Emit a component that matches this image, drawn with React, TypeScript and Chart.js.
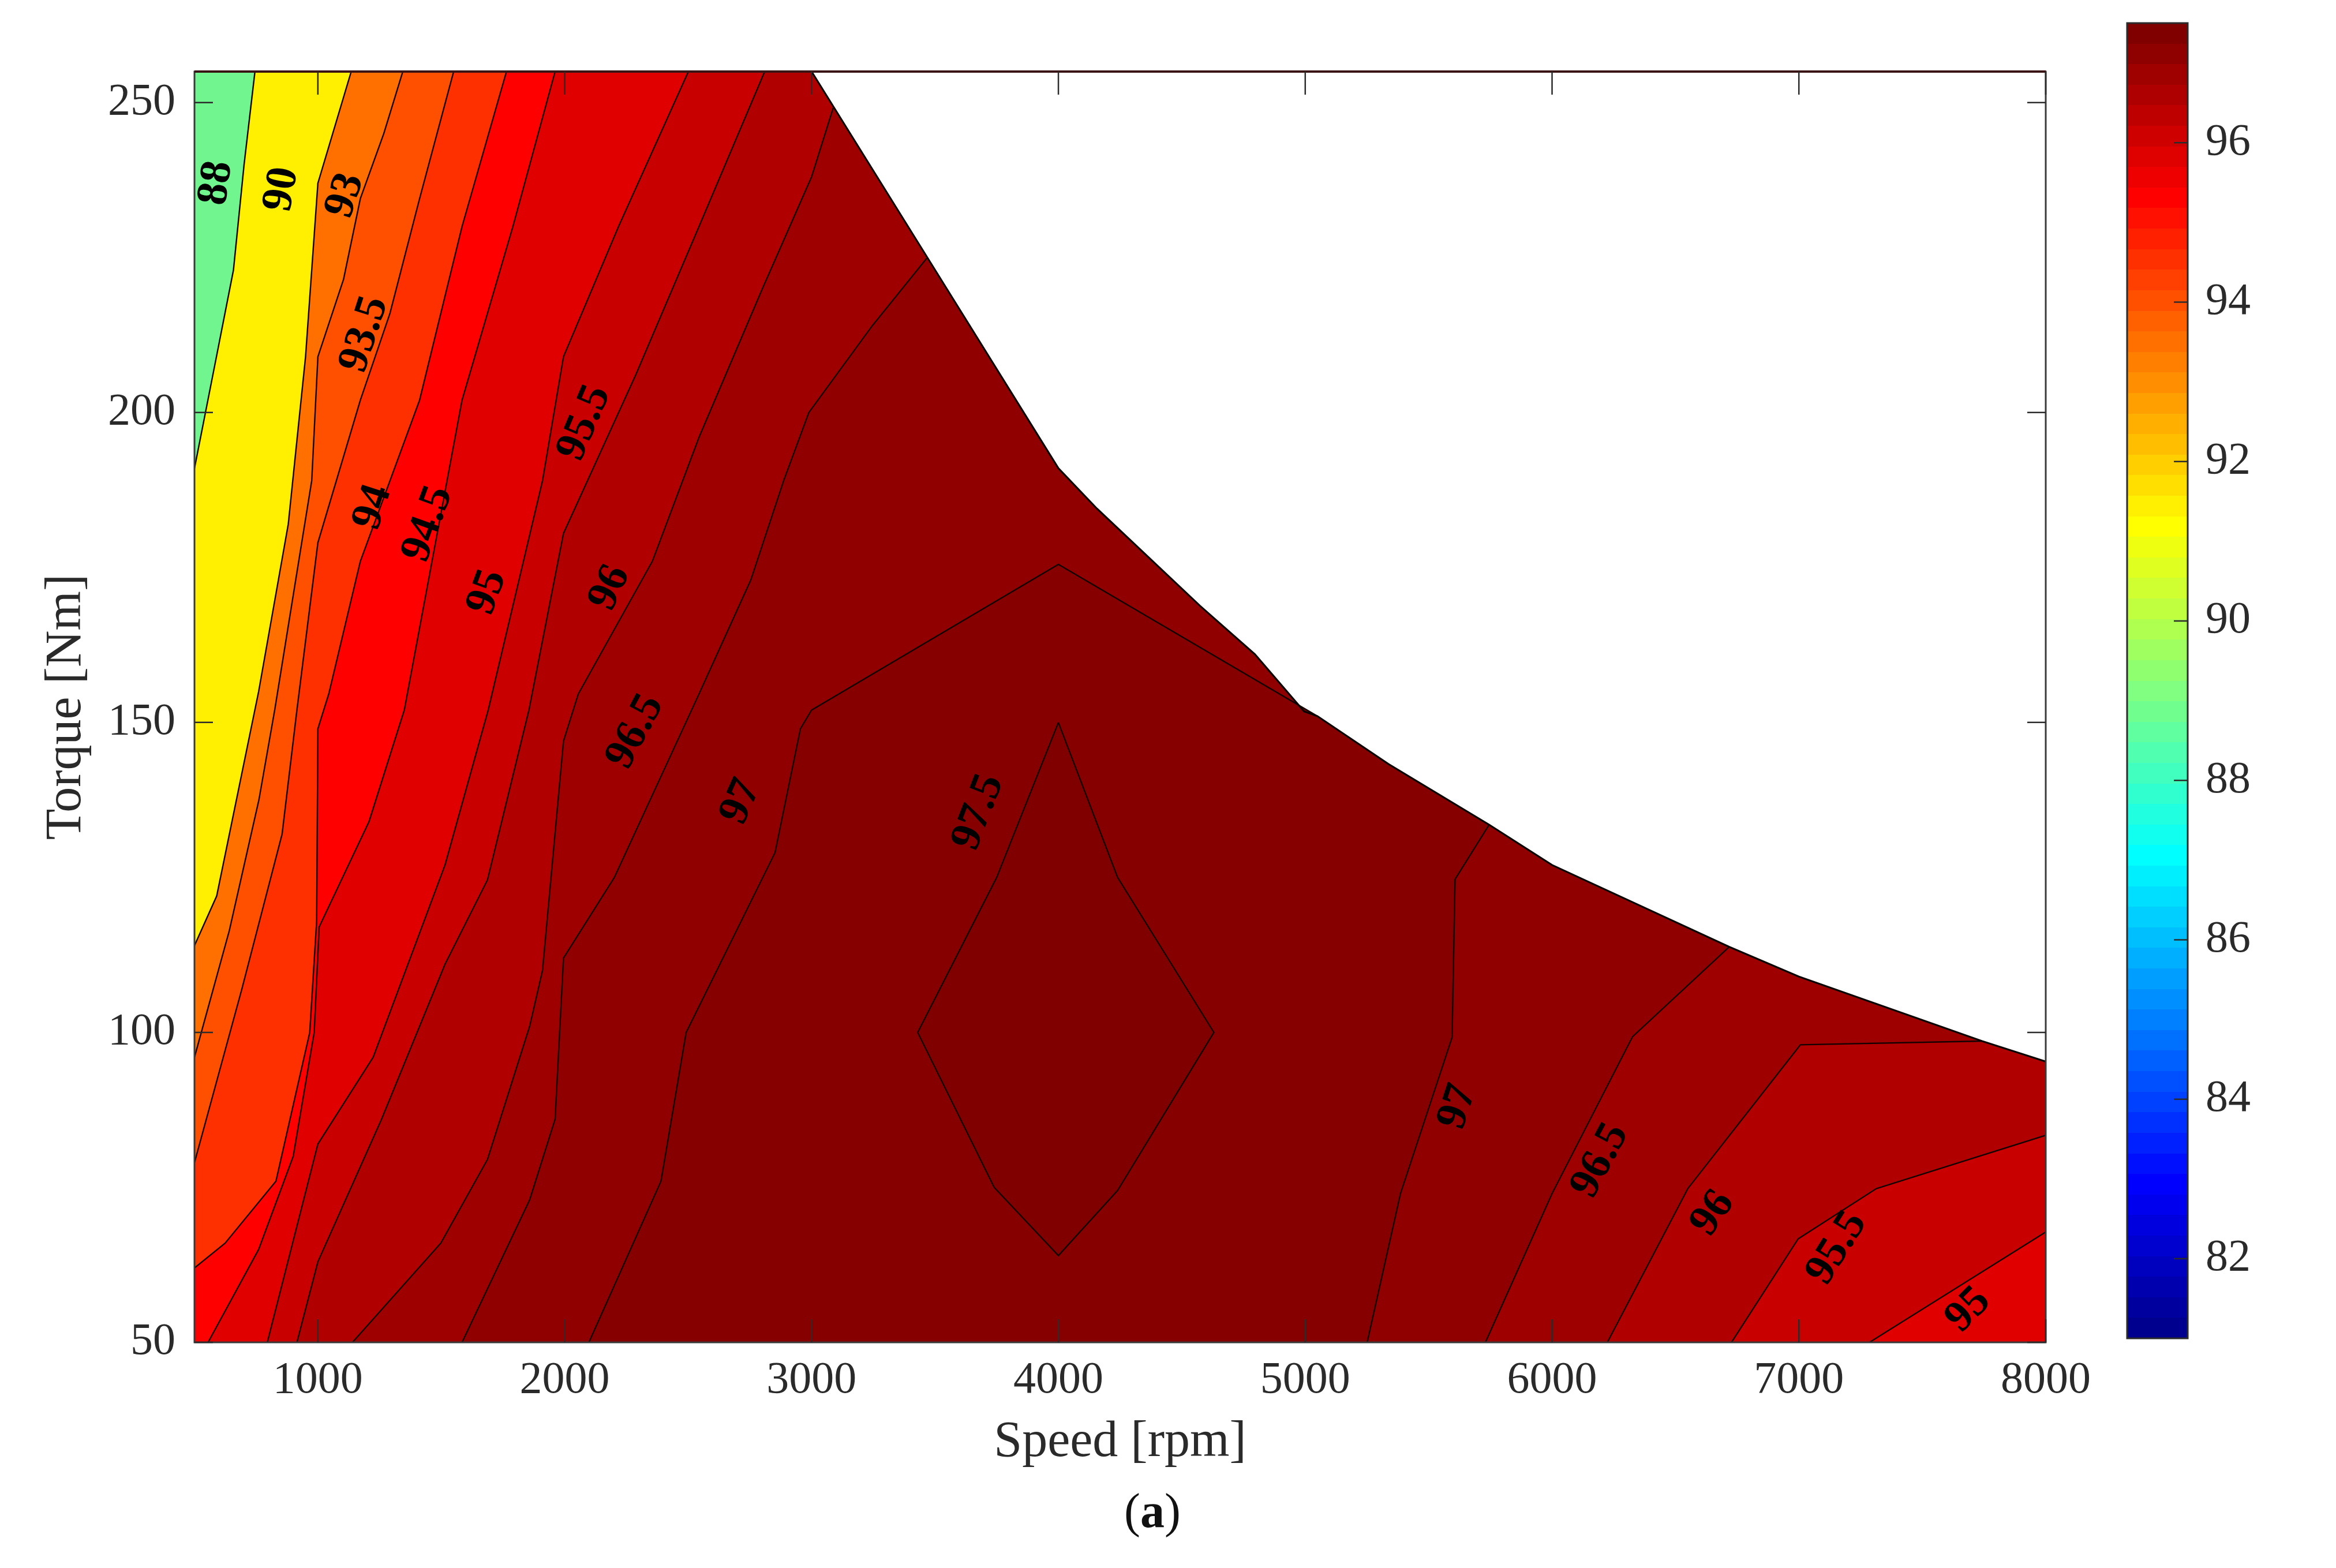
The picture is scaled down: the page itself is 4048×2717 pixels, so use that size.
import React, { useEffect, useRef } from 'react';
import { Chart, registerables } from 'chart.js';

Chart.register(...registerables);

const PAGE_W = 4048;
const PAGE_H = 2717;

// ---- axes ----
const speedMin = 500;
const speedMax = 8000;
const torqueMin = 50;
const torqueMax = 255;
const speedTicks = [1000, 2000, 3000, 4000, 5000, 6000, 7000, 8000];
const torqueTicks = [50, 100, 150, 200, 250];
const colorMin = 81;
const colorMax = 97.5;
const colorTicks = [82, 84, 86, 88, 90, 92, 94, 96];

// ---- maximum torque envelope [speed, torque] ----
const envelope = [
  [3000, 255], [3469, 225], [4000, 191], [4156, 184.5], [4574, 168.8], [4796, 161],
  [4995, 151.8], [5050, 151], [5337, 143.3], [5745, 133.5], [6000, 127], [6718, 113.8],
  [7000, 109], [7742, 98.6], [8000, 95.3],
];

// ---- efficiency contour lines [speed, torque] (left family: top/envelope -> bottom/left) ----
const line88 = [[745, 255], [701, 240], [658, 223], [589, 209], [500, 191]];
const line90 = [[1135, 255], [1000, 237], [950, 209], [880, 182], [760, 155], [590, 122], [500, 114]];
const line93 = [[1344, 255], [1267, 245], [1172, 234.5], [1104, 221.5], [1000, 209], [975, 189], [825, 152], [761, 137.5], [641, 116.4], [500, 96]];
const line93_5 = [[1550, 255], [1412, 234.5], [1292, 216], [1172, 202], [1000, 179], [915, 152], [855, 132], [692, 107], [500, 79]];
const line94 = [[1764, 255], [1584, 230], [1412, 202], [1172, 176], [1044, 154.6], [1000, 149], [995, 118], [967, 100], [830, 76], [624, 66], [500, 62]];
const line94_5 = [[1961, 255], [1790, 230], [1584, 202], [1350, 152], [1207, 134], [1005, 117], [985, 100], [900, 80], [760, 65], [555, 50]];
const line95 = [[2501, 255], [2218, 230], [1995, 209], [1910, 189], [1690, 152], [1515, 127], [1224, 96], [1000, 82], [795, 50]];
const line95_5 = [[2810, 255], [2544, 230], [2287, 206], [1995, 180.5], [1855, 152], [1687, 124.6], [1515, 111], [1258, 86], [1000, 63], [915, 50]];
const line96 = [[3089, 249.3], [3000, 238], [2801, 220], [2544, 196], [2355, 176], [2055, 154.6], [1995, 147], [1910, 110], [1858, 101], [1687, 79.5], [1498, 66], [1140, 50]];
const line96_5 = [[3469, 225], [3246, 214], [2989, 200], [2887, 189], [2754, 173], [2544, 154.6], [2201, 125], [1995, 112], [1961, 86], [1858, 73], [1584, 50]];
const line97 = [[5050, 151], [4000, 175.5], [3000, 152], [2955, 149], [2852, 129], [2492, 100], [2390, 76], [2098, 50]];
const line97_5 = [[4000, 150], [4240, 125], [4630, 100], [4240, 74.5], [4000, 64], [3740, 75], [3430, 100], [3750, 125], [4000, 150]];

// right family: bottom -> right edge / envelope
const right95 = [[7286, 50], [8000, 67.8]];
const right95_5 = [[6727, 50], [6997, 66.7], [7314, 74.8], [8000, 83.4]];
const right96 = [[6224, 50], [6550, 74.8], [7006, 98], [7742, 98.6]];
const right96_5 = [[5730, 50], [6000, 74], [6326, 99.3], [6718, 113.8]];
const right97 = [[5251, 50], [5386, 74], [5595, 99.2], [5607, 124.7], [5745, 133.5]];

// ---- contour labels [text, speed, torque, angle(deg)] ----
const contourLabels: [string, number, number, number][] = [
  ['88', 590, 237, 82],
  ['90', 855, 236, 80],
  ['93', 1112, 235, 72],
  ['93.5', 1190, 212.6, 72],
  ['94', 1224, 184.7, 72],
  ['94.5', 1447, 182, 70],
  ['95', 1687, 171, 70],
  ['95.5', 2081, 198.3, 67],
  ['96', 2184, 171.7, 65],
  ['96.5', 2287, 148.5, 62],
  ['97', 2715, 137.2, 66],
  ['97.5', 3677, 135.5, 69],
  ['97', 5619, 88, 72],
  ['96.5', 6196, 79.3, 62],
  ['96', 6652, 70.8, 55],
  ['95.5', 7155, 65.2, 58],
  ['95', 7687, 55.2, 45],
];

// ---- fill colours of the super-level regions ----
const baseColor = '#70F58F';
const regionColors = [
  '#FFEF00', // >= 88
  '#FF7000', // >= 90
  '#FF5000', // >= 93
  '#FF3000', // >= 93.5
  '#FF0000', // >= 94
  '#E00000', // >= 94.5
  '#C80000', // >= 95
  '#B00000', // >= 95.5
  '#9E0000', // >= 96
  '#900000', // >= 96.5
  '#870000', // >= 97
  '#800000', // >= 97.5
];

type P = { x: number; y: number };
const toPts = (arr: number[][]): P[] => arr.map(([x, y]) => ({ x, y }));

function buildRegion(left: number[][], right: number[][] | null): P[] {
  const pts = toPts(left);
  const end = left[left.length - 1];
  if (end[1] > torqueMin + 0.01) pts.push({ x: speedMin, y: torqueMin });
  if (right) pts.push(...toPts(right));
  else pts.push({ x: speedMax, y: torqueMin });
  const last = pts[pts.length - 1];
  const startX = left[0][0];
  for (let i = envelope.length - 1; i >= 0; i--) {
    const [ex, ey] = envelope[i];
    if (ex <= startX + 0.5) continue;
    if (ex > last.x + 0.5) continue;
    if (Math.abs(ex - last.x) <= 0.5 && ey <= last.y + 0.5) continue;
    pts.push({ x: ex, y: ey });
  }
  return pts;
}

function domainPolygon(): P[] {
  const pts: P[] = [{ x: speedMin, y: torqueMin }, { x: speedMax, y: torqueMin }];
  for (let i = envelope.length - 1; i >= 0; i--) pts.push({ x: envelope[i][0], y: envelope[i][1] });
  pts.push({ x: speedMin, y: torqueMax });
  return pts;
}

function jet64(): string[] {
  const n = 64, m = 16;
  const u: number[] = [];
  for (let i = 1; i <= m; i++) u.push(i / m);
  for (let i = 0; i < m - 1; i++) u.push(1);
  for (let i = m; i >= 1; i--) u.push(i / m);
  const g0 = Math.ceil(m / 2);
  const J = Array.from({ length: n }, () => [0, 0, 0]);
  u.forEach((val, k) => {
    const g = g0 + k + 1;
    const r = g + m;
    const b = g - m;
    if (r >= 1 && r <= n) J[r - 1][0] = val;
    if (g >= 1 && g <= n) J[g - 1][1] = val;
    if (b >= 1 && b <= n) J[b - 1][2] = val;
  });
  return J.map(([r, g, b]) => `rgb(${Math.round(r * 255)},${Math.round(g * 255)},${Math.round(b * 255)})`);
}

const FONT = '"Liberation Serif", "Times New Roman", serif';
const TEXT_COLOR = '#2a2a2a';

const decorPlugin = {
  id: 'decor',
  afterDraw(chart: any) {
    const { ctx, chartArea: a, scales } = chart;
    const x = scales.x;
    const y = scales.y;
    ctx.save();
    // contour labels
    ctx.fillStyle = '#000';
    ctx.font = `bold 76px ${FONT}`;
    ctx.textAlign = 'center';
    ctx.textBaseline = 'middle';
    for (const [t, s, tq, ang] of contourLabels) {
      ctx.save();
      ctx.translate(x.getPixelForValue(s), y.getPixelForValue(tq));
      ctx.rotate((-ang * Math.PI) / 180);
      ctx.fillText(t, 0, 0);
      ctx.restore();
    }
    // axes box
    ctx.strokeStyle = '#3a3a3a';
    ctx.lineWidth = 3;
    ctx.strokeRect(a.left, a.top, a.right - a.left, a.bottom - a.top);
    ctx.strokeStyle = '#3a1414';
    ctx.lineWidth = 4;
    ctx.beginPath();
    ctx.moveTo(a.left, a.top);
    ctx.lineTo(a.right, a.top);
    ctx.stroke();
    // inward ticks
    ctx.strokeStyle = '#2b2b2b';
    ctx.lineWidth = 2.5;
    ctx.beginPath();
    for (const v of speedTicks) {
      const px = x.getPixelForValue(v);
      ctx.moveTo(px, a.bottom);
      ctx.lineTo(px, a.bottom - 40);
      ctx.moveTo(px, a.top);
      ctx.lineTo(px, a.top + 40);
    }
    for (const v of torqueTicks) {
      const py = y.getPixelForValue(v);
      ctx.moveTo(a.left, py);
      ctx.lineTo(a.left + 32, py);
      ctx.moveTo(a.right, py);
      ctx.lineTo(a.right - 32, py);
    }
    ctx.stroke();
    // sub-figure tag "(a)"
    const parts: [string, string][] = [['(', 'normal'], ['a', 'bold'], [')', 'normal']];
    const size = 84;
    let total = 0;
    const widths = parts.map(([t, w]) => {
      ctx.font = `${w} ${size}px ${FONT}`;
      const wd = ctx.measureText(t).width;
      total += wd;
      return wd;
    });
    let cx = 1997 - total / 2;
    ctx.textAlign = 'left';
    ctx.textBaseline = 'alphabetic';
    ctx.fillStyle = '#111';
    parts.forEach(([t, w], i) => {
      ctx.font = `${w} ${size}px ${FONT}`;
      ctx.fillText(t, cx, 2646);
      cx += widths[i];
    });
    ctx.restore();
  },
};

function ContourChart() {
  const ref = useRef<HTMLCanvasElement>(null);
  useEffect(() => {
    const regions: [number[][], number[][] | null][] = [
      [line88, null], [line90, null], [line93, null], [line93_5, null], [line94, null], [line94_5, null],
      [line95, right95], [line95_5, right95_5], [line96, right96], [line96_5, right96_5], [line97, right97],
    ];
    const datasets: any[] = [];
    datasets.push({
      data: domainPolygon(), fill: 'shape', backgroundColor: baseColor, borderWidth: 0,
      pointRadius: 0, order: 100,
    });
    regions.forEach(([l, r], i) => {
      datasets.push({
        data: buildRegion(l, r), fill: 'shape', backgroundColor: regionColors[i], borderWidth: 0,
        pointRadius: 0, order: 99 - i,
      });
    });
    datasets.push({
      data: toPts(line97_5), fill: 'shape', backgroundColor: regionColors[11], borderWidth: 0,
      pointRadius: 0, order: 80,
    });
    const lines = [line88, line90, line93, line93_5, line94, line94_5, line95, line95_5, line96, line96_5, line97, line97_5,
      right95, right95_5, right96, right96_5, right97];
    lines.forEach((l) => {
      datasets.push({
        data: toPts(l), fill: false, borderColor: '#140000', borderWidth: 2.4, pointRadius: 0, order: 2,
      });
    });
    datasets.push({
      data: toPts(envelope), fill: false, borderColor: '#0a0000', borderWidth: 3.2, pointRadius: 0, order: 1,
    });

    const chart = new Chart(ref.current as HTMLCanvasElement, {
      type: 'line',
      data: { datasets },
      options: {
        animation: false,
        responsive: false,
        devicePixelRatio: 1,
        events: [],
        layout: { padding: { left: 0, top: 124, right: PAGE_W - 3545, bottom: 0 } },
        elements: { line: { tension: 0 } },
        plugins: { legend: { display: false }, tooltip: { enabled: false } },
        scales: {
          x: {
            type: 'linear', position: 'bottom', min: speedMin, max: speedMax,
            afterBuildTicks: (s: any) => { s.ticks = speedTicks.map((v) => ({ value: v })); },
            afterFit: (s: any) => { s.height = PAGE_H - 2326; },
            grid: { display: false, drawTicks: false },
            border: { display: false },
            ticks: {
              font: { family: FONT, size: 78 }, color: TEXT_COLOR, padding: 20,
              maxRotation: 0, autoSkip: false, callback: (v: any) => String(v),
            },
            title: {
              display: true, text: 'Speed [rpm]', color: TEXT_COLOR,
              font: { family: FONT, size: 88 }, padding: { top: 0, bottom: 164 },
            },
          },
          y: {
            type: 'linear', position: 'left', min: torqueMin, max: torqueMax,
            afterBuildTicks: (s: any) => { s.ticks = torqueTicks.map((v) => ({ value: v })); },
            afterFit: (s: any) => { s.width = 337; },
            grid: { display: false, drawTicks: false },
            border: { display: false },
            ticks: {
              font: { family: FONT, size: 78 }, color: TEXT_COLOR, padding: 33,
              autoSkip: false, callback: (v: any) => String(v),
            },
            title: {
              display: true, text: 'Torque [Nm]', color: TEXT_COLOR,
              font: { family: FONT, size: 88 }, padding: { top: 63, bottom: 0 },
            },
          },
        },
      } as any,
      plugins: [decorPlugin],
    });
    return () => chart.destroy();
  }, []);
  return (
    <canvas
      ref={ref}
      width={PAGE_W}
      height={PAGE_H}
      style={{ position: 'absolute', left: 0, top: 0, width: PAGE_W, height: PAGE_H }}
    />
  );
}

const CB_LEFT = 3600;
const CB_W = PAGE_W - CB_LEFT;

const colorbarDecor = {
  id: 'cbDecor',
  afterDraw(chart: any) {
    const { ctx, chartArea: a, scales } = chart;
    const y = scales.y;
    ctx.save();
    ctx.strokeStyle = '#2b2b2b';
    ctx.lineWidth = 3;
    ctx.strokeRect(a.left, a.top, a.right - a.left, a.bottom - a.top);
    ctx.lineWidth = 2.5;
    ctx.beginPath();
    for (const v of colorTicks) {
      const py = y.getPixelForValue(v);
      ctx.moveTo(a.right, py);
      ctx.lineTo(a.right - 24, py);
    }
    ctx.stroke();
    ctx.restore();
  },
};

function ColorBar() {
  const ref = useRef<HTMLCanvasElement>(null);
  useEffect(() => {
    const cmap = jet64();
    const chart = new Chart(ref.current as HTMLCanvasElement, {
      type: 'bar',
      data: {
        labels: [''],
        datasets: [{
          data: [[colorMin, colorMax]],
          barPercentage: 1,
          categoryPercentage: 1,
          borderWidth: 0,
          backgroundColor: (c: any) => {
            const area = c.chart.chartArea;
            if (!area) return cmap[63];
            const g = c.chart.ctx.createLinearGradient(0, area.bottom, 0, area.top);
            cmap.forEach((col, i) => {
              g.addColorStop(i / cmap.length, col);
              g.addColorStop(Math.min(1, (i + 1) / cmap.length - 1e-6), col);
            });
            return g;
          },
        }],
      },
      options: {
        animation: false,
        responsive: false,
        devicePixelRatio: 1,
        events: [],
        layout: { padding: { left: 3686 - CB_LEFT, top: 40, right: 0, bottom: PAGE_H - 2319 } },
        plugins: { legend: { display: false }, tooltip: { enabled: false } },
        scales: {
          x: { display: false },
          y: {
            position: 'right', min: colorMin, max: colorMax,
            afterBuildTicks: (s: any) => { s.ticks = colorTicks.map((v) => ({ value: v })); },
            afterFit: (s: any) => {
              s.width = CB_W - (3791 - CB_LEFT);
              s.paddingTop = 0;
              s.paddingBottom = 0;
            },
            grid: { display: false, drawTicks: false },
            border: { display: false },
            ticks: { font: { family: FONT, size: 78 }, color: TEXT_COLOR, padding: 31, autoSkip: false },
          },
        },
      } as any,
      plugins: [colorbarDecor],
    });
    return () => chart.destroy();
  }, []);
  return (
    <canvas
      ref={ref}
      width={CB_W}
      height={PAGE_H}
      style={{ position: 'absolute', left: CB_LEFT, top: 0, width: CB_W, height: PAGE_H }}
    />
  );
}

export default function App() {
  return (
    <div style={{ position: 'absolute', left: 0, top: 0, width: PAGE_W, height: PAGE_H, background: '#fff' }}>
      <ContourChart />
      <ColorBar />
    </div>
  );
}
